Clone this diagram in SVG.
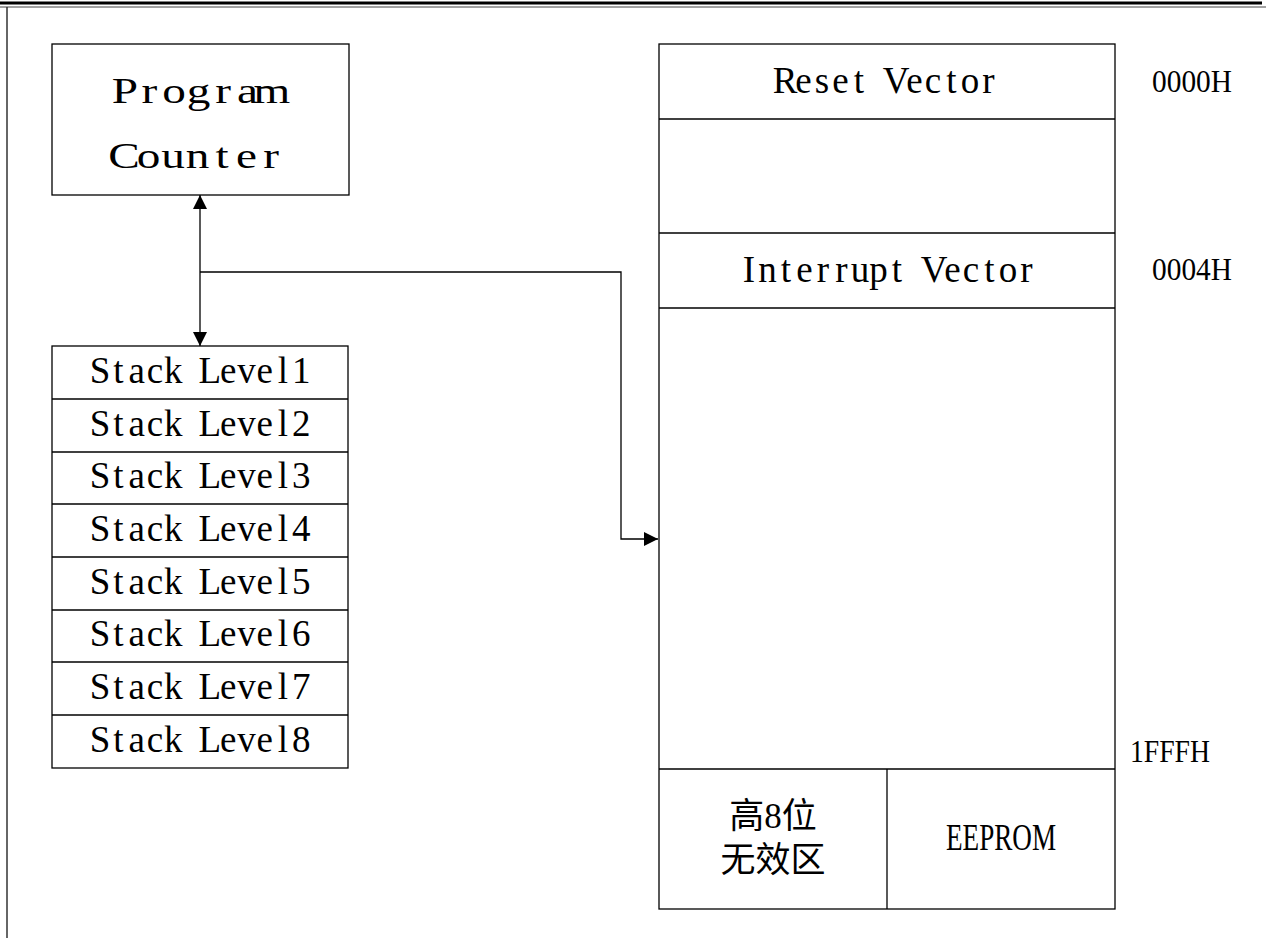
<svg xmlns="http://www.w3.org/2000/svg" width="1266" height="938" viewBox="0 0 1266 938">
<defs>
<style>
.box{fill:#fff;stroke:#000;stroke-width:1.3}
.ln{fill:none;stroke:#000;stroke-width:1.3}
.conn{fill:none;stroke:#000;stroke-width:1.3}
.mono{font-family:"Liberation Serif","Noto Sans CJK SC",serif;fill:#000;text-anchor:middle}
.serif{font-family:"Liberation Serif","Noto Sans CJK SC",serif;fill:#000}
.cjk{font-family:"Liberation Serif","Noto Sans CJK SC",serif;fill:#000;text-anchor:middle;font-size:35px}
</style>
<marker id="ah" viewBox="0 0 14 14" refX="14" refY="7" markerWidth="14" markerHeight="14" markerUnits="userSpaceOnUse" orient="auto-start-reverse">
<path d="M0,0 L14,7 L0,14 Z" fill="#000"/>
</marker>
</defs>
<rect width="1266" height="938" fill="#fff"/>
<g id="frame">
<line x1="0" y1="3" x2="1262" y2="3" stroke="#000" stroke-width="3"/>
<line x1="0" y1="7" x2="1266" y2="7" stroke="#444" stroke-width="1"/>
<line x1="7" y1="7" x2="7" y2="938" stroke="#333" stroke-width="1.5"/>
</g>
<g id="program-counter">
<rect class="box" x="52" y="44" width="297" height="151"/>
<g transform="scale(1.35,1)">
<text class="mono" font-size="35" x="92.59 110.74 128.89 147.04 165.19 183.33 201.48" y="103">Program</text>
<text class="mono" font-size="35" x="91.85 110 128.15 146.3 164.44 182.59 200.74" y="168">Counter</text>
</g>
</g>
<g id="stack">
<rect class="box" x="52" y="346" width="296" height="422"/>
<line class="ln" x1="52" y1="399" x2="348" y2="399"/>
<line class="ln" x1="52" y1="452" x2="348" y2="452"/>
<line class="ln" x1="52" y1="504" x2="348" y2="504"/>
<line class="ln" x1="52" y1="557" x2="348" y2="557"/>
<line class="ln" x1="52" y1="610" x2="348" y2="610"/>
<line class="ln" x1="52" y1="662" x2="348" y2="662"/>
<line class="ln" x1="52" y1="715" x2="348" y2="715"/>
<g class="mono" font-size="37">
<text x="100 118.3 136.6 154.9 173.2 191.5 209.8 228.1 246.4 264.7 283 301.3" y="383">Stack Level1</text>
<text x="100 118.3 136.6 154.9 173.2 191.5 209.8 228.1 246.4 264.7 283 301.3" y="436">Stack Level2</text>
<text x="100 118.3 136.6 154.9 173.2 191.5 209.8 228.1 246.4 264.7 283 301.3" y="488">Stack Level3</text>
<text x="100 118.3 136.6 154.9 173.2 191.5 209.8 228.1 246.4 264.7 283 301.3" y="541">Stack Level4</text>
<text x="100 118.3 136.6 154.9 173.2 191.5 209.8 228.1 246.4 264.7 283 301.3" y="594">Stack Level5</text>
<text x="100 118.3 136.6 154.9 173.2 191.5 209.8 228.1 246.4 264.7 283 301.3" y="646">Stack Level6</text>
<text x="100 118.3 136.6 154.9 173.2 191.5 209.8 228.1 246.4 264.7 283 301.3" y="699">Stack Level7</text>
<text x="100 118.3 136.6 154.9 173.2 191.5 209.8 228.1 246.4 264.7 283 301.3" y="752">Stack Level8</text>
</g>
</g>
<g id="program-memory">
<rect class="box" x="659" y="44" width="456" height="865"/>
<line class="ln" x1="659" y1="119" x2="1115" y2="119"/>
<line class="ln" x1="659" y1="233" x2="1115" y2="233"/>
<line class="ln" x1="659" y1="308" x2="1115" y2="308"/>
<line class="ln" x1="659" y1="769" x2="1115" y2="769"/>
<line class="ln" x1="887" y1="769" x2="887" y2="909"/>
<text class="mono" font-size="37" x="785 803.5 822 840.5 859 877.5 896 914.5 933 951.5 970 988.5" y="93">Reset Vector</text>
<text class="mono" font-size="37" x="749 767.5 786 804.5 823 841.5 860 878.5 897 915.5 934 952.5 971 989.5 1008 1026.5" y="282">Interrupt Vector</text>
<text class="cjk" x="773" y="828">高8位</text>
<text class="cjk" x="773" y="872">无效区</text>
<text class="serif" x="1001" y="850" font-size="37" text-anchor="middle" textLength="110" lengthAdjust="spacingAndGlyphs">EEPROM</text>
</g>
<g id="addresses" class="serif" font-size="32">
<text x="1152" y="92" textLength="80" lengthAdjust="spacingAndGlyphs">0000H</text>
<text x="1152" y="280" textLength="80" lengthAdjust="spacingAndGlyphs">0004H</text>
<text x="1130" y="762" textLength="80" lengthAdjust="spacingAndGlyphs">1FFFH</text>
</g>
<g id="connectors">
<line class="conn" x1="200" y1="195" x2="200" y2="346" marker-start="url(#ah)" marker-end="url(#ah)"/>
<polyline class="conn" points="200,272 621,272 621,539 658,539" marker-end="url(#ah)"/>
</g>
</svg>
